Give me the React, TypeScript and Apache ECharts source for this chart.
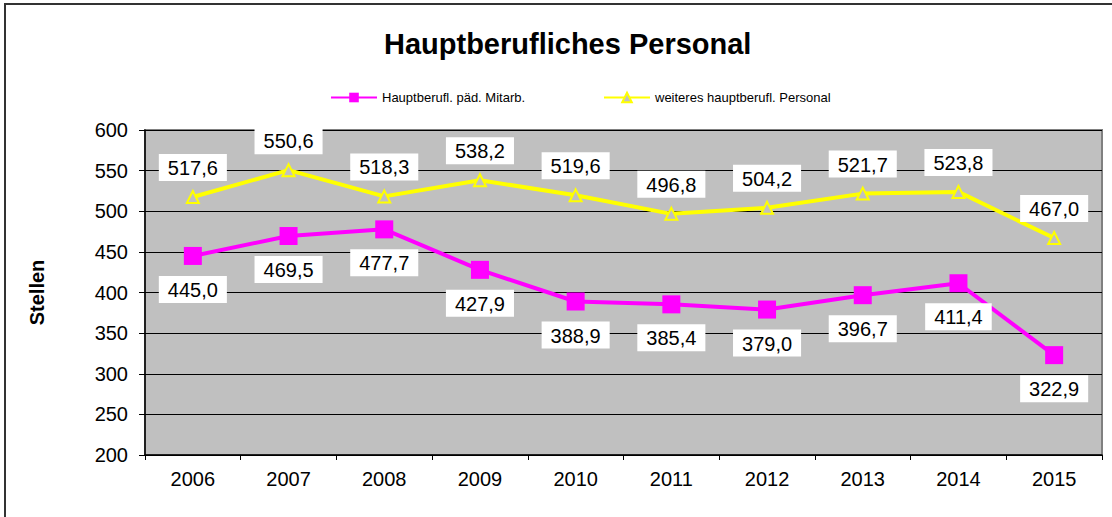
import React, { useEffect, useRef } from "react";
import * as echarts from "echarts";

const years = ["2006", "2007", "2008", "2009", "2010", "2011", "2012", "2013", "2014", "2015"];
const paedMitarb = [445.0, 469.5, 477.7, 427.9, 388.9, 385.4, 379.0, 396.7, 411.4, 322.9];
const weiteresPersonal = [517.6, 550.6, 518.3, 538.2, 519.6, 496.8, 504.2, 521.7, 523.8, 467.0];
const seriesNames = ["Hauptberufl. päd. Mitarb.", "weiteres hauptberufl. Personal"];

const fmt = (v: number) => v.toFixed(1).replace(".", ",");
const FONT = "Liberation Sans, Arial, sans-serif";

export default function App() {
  const ref = useRef<HTMLDivElement>(null);
  useEffect(() => {
    document.body.style.margin = "0";
    const chart = echarts.init(ref.current!, null, { renderer: "svg" });
    const labelBase = {
      show: true,
      formatter: (p: any) => fmt(p.value),
      color: "#000",
      fontSize: 20,
      lineHeight: 22,
      fontFamily: FONT,
      backgroundColor: "#fff",
      padding: [3, 9, 2, 9],
    };
    chart.setOption({
      animation: false,
      backgroundColor: "#fff",
      textStyle: { fontFamily: FONT },
      title: {
        text: "Hauptberufliches Personal",
        left: 379,
        top: 24,
        textStyle: { fontSize: 29, fontWeight: "bold", color: "#000", fontFamily: FONT },
      },
      graphic: [
        {
          type: "rect",
          shape: { x: 5, y: 4, width: 1200, height: 600 },
          style: { fill: "none", stroke: "#333", lineWidth: 2 },
          silent: true,
          z: 100,
        },
      ],
      legend: [
        {
          data: [seriesNames[0]],
          left: 325,
          top: 86,
          itemWidth: 46,
          itemHeight: 12,
          textStyle: { fontSize: 13, color: "#000", fontFamily: FONT },
        },
        {
          data: [seriesNames[1]],
          left: 598,
          top: 86,
          itemWidth: 46,
          itemHeight: 12,
          textStyle: { fontSize: 13, color: "#000", fontFamily: FONT },
        },
      ],
      grid: {
        left: 145,
        right: 10,
        top: 130,
        bottom: 62,
        show: true,
        backgroundColor: "#C0C0C0",
        borderColor: "#808080",
        borderWidth: 2,
      },
      xAxis: {
        type: "category",
        data: years,
        boundaryGap: true,
        axisLine: { lineStyle: { color: "#000", width: 1.5 } },
        axisTick: { show: true, length: 5, lineStyle: { color: "#000" } },
        axisLabel: { fontSize: 20, color: "#000", margin: 14, fontFamily: FONT },
      },
      yAxis: {
        type: "value",
        min: 200,
        max: 600,
        interval: 50,
        name: "Stellen",
        nameLocation: "middle",
        nameGap: 98,
        nameTextStyle: { fontSize: 20, fontWeight: "bold", color: "#000", fontFamily: FONT },
        axisLine: { show: true, lineStyle: { color: "#000", width: 1.5 } },
        axisTick: { show: true, length: 6, lineStyle: { color: "#000" } },
        axisLabel: { fontSize: 20, color: "#000", margin: 17, fontFamily: FONT },
        splitLine: { show: true, lineStyle: { color: "#000", width: 1 } },
      },
      series: [
        {
          name: seriesNames[0],
          type: "line",
          data: paedMitarb,
          symbol: "rect",
          symbolSize: 18,
          itemStyle: { color: "#FF00FF" },
          lineStyle: { color: "#FF00FF", width: 4 },
          label: { ...labelBase, position: "bottom", distance: 11 },
          z: 3,
        },
        {
          name: seriesNames[1],
          type: "line",
          data: weiteresPersonal,
          symbol: "triangle",
          symbolSize: 12,
          itemStyle: { color: "#C0C0C0", borderColor: "#FFFF00", borderWidth: 2 },
          lineStyle: { color: "#FFFF00", width: 4 },
          label: { ...labelBase, position: "top", distance: 9 },
          z: 2,
        },
      ],
    });
    return () => chart.dispose();
  }, []);
  return <div ref={ref} style={{ width: 1112, height: 517 }} />;
}
